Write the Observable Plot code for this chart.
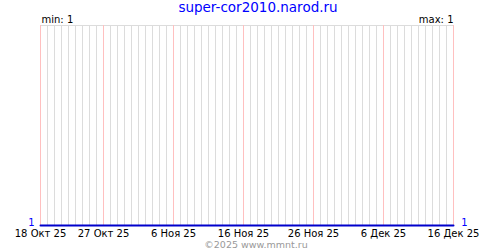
<!DOCTYPE html>
<html>
<head>
<meta charset="utf-8">
<script src="https://cdn.jsdelivr.net/npm/d3@7"></script>
<script src="https://cdn.jsdelivr.net/npm/@observablehq/plot@0.6"></script>
<style>
  html, body { margin: 0; padding: 0; background: #fff; }
  #chart svg { display: block; }
</style>
</head>
<body>
<div id="chart"></div>
<script>
// Series: daily value (all equal to 1), 18 Oct 2025 .. 16 Dec 2025
const startDate = "2025-10-18";
const endDate = "2025-12-16";
const values = [1,1,1,1,1,1,1,1,1,1, 1,1,1,1,1,1,1,1,1,1,
                1,1,1,1,1,1,1,1,1,1, 1,1,1,1,1,1,1,1,1,1,
                1,1,1,1,1,1,1,1,1,1, 1,1,1,1,1,1,1,1,1,1];
// Tick labels (every 10 days)
const tickDates = ["2025-10-18","2025-10-27","2025-11-06","2025-11-16","2025-11-26","2025-12-06","2025-12-16"];
const tickLabels = ["18 Окт 25","27 Окт 25","6 Ноя 25","16 Ноя 25","26 Ноя 25","6 Дек 25","16 Дек 25"];
const titleText = "super-cor2010.narod.ru";
const minText = "min: 1";
const maxText = "max: 1";
const captionText = "©2025 www.mmnt.ru";

const days = d3.utcDay.range(new Date(startDate), d3.utcDay.offset(new Date(endDate), 1));
const series = days.map((d, i) => ({date: d, value: values[i]}));
const ticks = tickDates.map((d, i) => ({date: new Date(d), label: tickLabels[i]}));
const tickSet = new Set(ticks.map(t => +t.date));
const grayDays = days.filter(d => !tickSet.has(+d));

const font = "DejaVu Sans, Verdana, sans-serif";

const chart = Plot.plot({
  width: 500,
  height: 250,
  marginLeft: 40,
  marginRight: 47,
  marginTop: 25,
  marginBottom: 25,
  style: {background: "#fff", fontFamily: font},
  x: {type: "utc", domain: [new Date(startDate), new Date(endDate)], axis: null},
  y: {domain: [1, 2], axis: null},
  marks: [
    Plot.ruleY([2], {stroke: "#dcdcdc", strokeWidth: 1}),
    Plot.ruleX(grayDays, {x: d => d, stroke: "#dcdcdc", strokeWidth: 1}),
    Plot.ruleX(ticks, {x: "date", stroke: "#ffc0c0", strokeWidth: 1}),
    Plot.line(series, {x: "date", y: "value", stroke: "#0000cc", strokeWidth: 2}),
    Plot.text(ticks, {x: "date", text: "label", frameAnchor: "bottom", dy: 8, fontSize: 10, fill: "#000", lineAnchor: "middle"}),
    Plot.text([series[0]], {x: "date", y: "value", text: d => String(d.value), dx: -9, dy: -3, fill: "#0000ff", fontSize: 10}),
    Plot.text([series[series.length - 1]], {x: "date", y: "value", text: d => String(d.value), dx: 11, dy: -3, fill: "#0000ff", fontSize: 10}),
    Plot.text([titleText], {text: d => d, frameAnchor: "top", dx: 11, dy: -18, fill: "#0000ff", fontSize: 13.5, lineAnchor: "middle"}),
    Plot.text([minText], {text: d => d, frameAnchor: "top-left", dx: 1, dy: -6, fill: "#000", fontSize: 10, textAnchor: "start", lineAnchor: "middle"}),
    Plot.text([maxText], {text: d => d, frameAnchor: "top-right", dx: 0, dy: -6, fill: "#000", fontSize: 10, textAnchor: "end", lineAnchor: "middle"}),
    Plot.text([captionText], {text: d => d, frameAnchor: "bottom", dx: 9, dy: 19.5, fill: "#999", fontSize: 9.5, lineAnchor: "middle"})
  ]
});
document.getElementById("chart").append(chart);
</script>
</body>
</html>
